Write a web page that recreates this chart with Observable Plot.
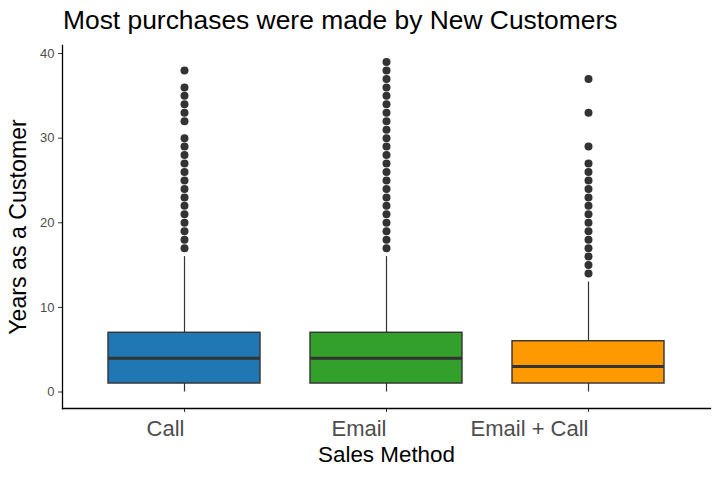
<!DOCTYPE html>
<html>
<head>
<meta charset="utf-8">
<script src="https://cdn.jsdelivr.net/npm/d3@7"></script>
<script src="https://cdn.jsdelivr.net/npm/@observablehq/plot@0.6"></script>
<style>
  html, body { margin: 0; padding: 0; background: #fff; }
  body { width: 720px; height: 480px; overflow: hidden; font-family: "Liberation Sans", Arial, sans-serif; }
  #title { height: 40px; box-sizing: border-box; padding-left: 63px; padding-top: 5px; font-size: 26.4px; line-height: 30px; color: #000; white-space: nowrap; }
  #chart svg { display: block; }
</style>
</head>
<body>
<div id="title">Most purchases were made by New Customers</div>
<div id="chart"></div>
<script>
const methods = ["Call", "Email", "Email + Call"];
const colors = ["#1f78b4", "#33a02c", "#ff9900"];
const lowerWhisker = [0, 0, 0];
const q1 = [1, 1, 1];
const median = [4, 4, 3];
const q3 = [7, 7, 6];
const upperWhisker = [16, 16, 13];
const callOutliers = [17, 18, 19, 20, 21, 22, 23, 24, 25, 26, 27, 28, 29, 30, 32, 33, 34, 35, 36, 38];
const emailOutliers = [17, 18, 19, 20, 21, 22, 23, 24, 25, 26, 27, 28, 29, 30, 31, 32, 33, 34, 35, 36, 37, 38, 39];
const emailCallOutliers = [14, 15, 16, 17, 18, 19, 20, 21, 22, 23, 24, 25, 26, 27, 29, 33, 37];
const yTicks = [0, 10, 20, 30, 40];

const boxes = methods.map((m, i) => ({
  method: m, lo: lowerWhisker[i], q1: q1[i], med: median[i], q3: q3[i], hi: upperWhisker[i]
}));
const outliers = [
  ...callOutliers.map(v => ({method: methods[0], value: v})),
  ...emailOutliers.map(v => ({method: methods[1], value: v})),
  ...emailCallOutliers.map(v => ({method: methods[2], value: v}))
];

const plot = Plot.plot({
  width: 720,
  height: 440,
  marginTop: 5,
  marginBottom: 72,
  marginLeft: 62,
  marginRight: 10,
  style: {fontFamily: "Liberation Sans, Arial, sans-serif", background: "#fff", overflow: "visible"},
  x: {
    type: "band", domain: methods, paddingInner: 0.25, paddingOuter: 0.225,
    label: null
  },
  y: {
    domain: [-1.95, 40.95], label: null
  },
  color: {domain: methods, range: colors},
  marks: [
    Plot.ruleX(boxes, {x: "method", y1: "q3", y2: "hi", stroke: "#333333", strokeWidth: 1.2}),
    Plot.ruleX(boxes, {x: "method", y1: "lo", y2: "q1", stroke: "#333333", strokeWidth: 1.2}),
    Plot.barY(boxes, {x: "method", y1: "q1", y2: "q3", fill: "method", stroke: "#333333", strokeWidth: 1.4, inset: 0}),
    Plot.tickY(boxes, {x: "method", y: "med", stroke: "#333333", strokeWidth: 3}),
    Plot.dot(outliers, {x: "method", y: "value", r: 4, fill: "#333333", stroke: "none"}),
    Plot.axisY({ticks: yTicks, tickSize: 4, tickPadding: 4, fontSize: 13, fill: "#4d4d4d", stroke: "#333333", label: null}),
    Plot.axisX({tickSize: 4, tickPadding: 8, fontSize: 22, fill: "#4d4d4d", stroke: "#333333", textAnchor: "end", label: null}),
    Plot.frame({anchor: "left", stroke: "#000", strokeWidth: 1.3}),
    Plot.frame({anchor: "bottom", stroke: "#000", strokeWidth: 1.3}),
    Plot.text(["Sales Method"], {frameAnchor: "bottom", dy: 53, fontSize: 22.4, fill: "#000", textAnchor: "middle"}),
    Plot.text(["Years as a Customer"], {frameAnchor: "left", dx: -44, rotate: -90, fontSize: 23.2, fill: "#000", textAnchor: "middle"})
  ]
});
document.getElementById("chart").appendChild(plot);
</script>
</body>
</html>
